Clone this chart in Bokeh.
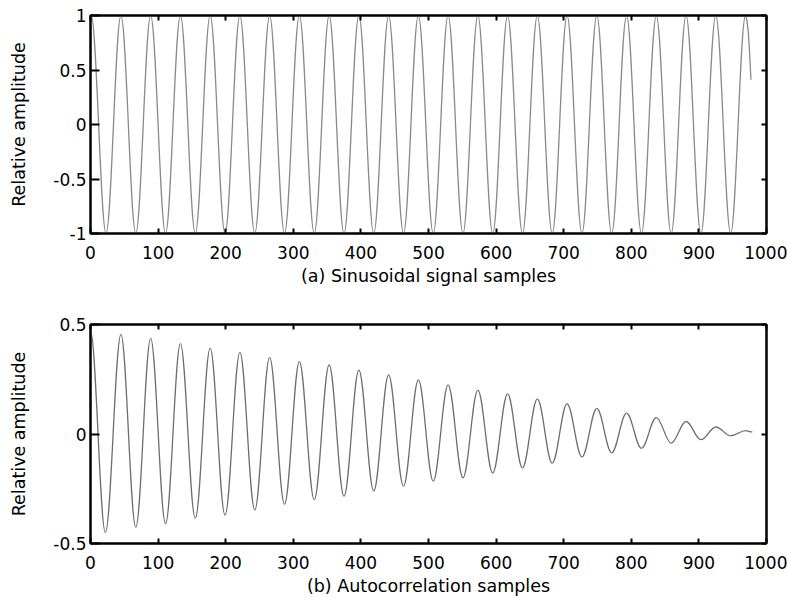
import numpy as np
from bokeh.plotting import figure
from bokeh.models import ColumnDataSource, LinearAxis, FixedTicker, Range1d
from bokeh.layouts import column
from bokeh.embed import file_html
from bokeh.resources import INLINE

# ---------------- data ----------------
x_ticks = [0, 100, 200, 300, 400, 500, 600, 700, 800, 900, 1000]
sig_yticks = [-1, -0.5, 0, 0.5, 1]
sig_ylabels = {-1: "-1", -0.5: "-0.5", 0: "0", 0.5: "0.5", 1: "1"}
acf_yticks = [-0.5, 0, 0.5]
acf_ylabels = {-0.5: "-0.5", 0: "0", 0.5: "0.5"}

# (a) sinusoidal signal: sample index and value at each extremum
sig_ext_x = [1, 23, 45, 67, 89, 111, 133, 155, 177, 199, 221, 243, 265, 287, 309,
             331, 353, 375, 397, 419, 441, 463, 485, 507, 529, 551, 573, 595, 617,
             639, 661, 683, 705, 727, 749, 771, 793, 815, 837, 859, 881, 903, 925,
             947, 969]
sig_ext_y = [1.0, -1.0, 1.0, -1.0, 1.0, -1.0, 1.0, -1.0, 1.0, -1.0, 1.0, -1.0, 1.0,
             -1.0, 1.0, -1.0, 1.0, -1.0, 1.0, -1.0, 1.0, -1.0, 1.0, -1.0, 1.0, -1.0,
             1.0, -1.0, 1.0, -1.0, 1.0, -1.0, 1.0, -1.0, 1.0, -1.0, 1.0, -1.0, 1.0,
             -1.0, 1.0, -1.0, 1.0, -1.0, 1.0]
# last samples after the final peak
sig_tail_x = [969, 971, 973, 975, 977]
sig_tail_y = [1.0, 0.96, 0.85, 0.66, 0.41]

# (b) autocorrelation: lag and value at each extremum
acf_ext_x = [0, 22, 45, 67, 89, 111, 133, 155, 177, 199, 221, 243, 265, 287, 309,
             331, 353, 375, 397, 419, 441, 463, 485, 507, 529, 551, 573, 595, 617,
             639, 661, 683, 705, 727, 749, 771, 793, 815, 837, 859, 881, 903, 925,
             947, 969, 979]
acf_ext_y = [0.47, -0.45, 0.455, -0.425, 0.437, -0.41, 0.413, -0.385, 0.392, -0.37,
             0.373, -0.347, 0.35, -0.32, 0.33, -0.30, 0.315, -0.284, 0.292, -0.26,
             0.27, -0.238, 0.247, -0.215, 0.224, -0.20, 0.20, -0.178, 0.183, -0.155,
             0.16, -0.133, 0.138, -0.105, 0.117, -0.086, 0.095, -0.065, 0.075, -0.042,
             0.057, -0.026, 0.032, -0.008, 0.015, 0.01]

FONT = "DejaVu Sans"


def half_waves(xs, ys, k=0.36):
    x0 = np.array(xs[:-1], float)
    x1 = np.array(xs[1:], float)
    y0 = np.array(ys[:-1], float)
    y1 = np.array(ys[1:], float)
    dx = x1 - x0
    return ColumnDataSource(dict(x0=x0, y0=y0, x1=x1, y1=y1,
                                 cx0=x0 + k * dx, cy0=y0,
                                 cx1=x1 - k * dx, cy1=y1))


def style_axis(ax, ticks, labels=None, tick_in=5, show_labels=True):
    ax.ticker = FixedTicker(ticks=ticks)
    ax.minor_tick_line_color = None
    ax.major_tick_in = tick_in
    ax.major_tick_out = 0
    ax.major_tick_line_width = 2
    ax.major_tick_line_color = "black"
    ax.axis_line_width = 2
    ax.axis_line_color = "black"
    if labels is not None:
        ax.major_label_overrides = labels
    if show_labels:
        ax.major_label_text_font = FONT
        ax.major_label_text_font_size = "17px"
        ax.major_label_text_color = "black"
    else:
        ax.major_label_text_color = None
        ax.major_label_text_font_size = "1px"
        ax.major_label_standoff = 0


def make_fig(height, btop, bbottom, yr, yticks, ylabels, xlabel, label_standoff):
    p = figure(width=787, height=height, x_range=Range1d(0, 1000),
               y_range=Range1d(*yr), output_backend="svg", toolbar_location=None,
               min_border_left=90, min_border_right=21, min_border_top=btop,
               min_border_bottom=bbottom)
    p.grid.visible = False
    p.outline_line_color = "black"
    p.outline_line_width = 2
    p.background_fill_color = "white"
    p.border_fill_color = "white"

    xa = p.xaxis[0]
    style_axis(xa, x_ticks, tick_in=5)
    xa.major_label_standoff = 12
    xa.axis_label = xlabel
    xa.axis_label_standoff = label_standoff
    xa.axis_label_text_font = FONT
    xa.axis_label_text_font_size = "17.5px"
    xa.axis_label_text_font_style = "normal"
    xa.axis_label_text_color = "black"

    ya = p.yaxis[0]
    style_axis(ya, yticks, ylabels, tick_in=9)
    ya.major_label_standoff = 4
    ya.axis_label = "Relative amplitude"
    ya.axis_label_standoff = 21
    ya.axis_label_text_font = FONT
    ya.axis_label_text_font_size = "17.5px"
    ya.axis_label_text_font_style = "normal"
    ya.axis_label_text_color = "black"

    top = LinearAxis()
    style_axis(top, x_ticks, show_labels=False)
    p.add_layout(top, "above")
    right = LinearAxis()
    style_axis(right, yticks, show_labels=False)
    p.add_layout(right, "right")
    return p


p1 = make_fig(300, 15, 67, (-1, 1), sig_yticks, sig_ylabels,
              "(a) Sinusoidal signal samples", 4)
p1.bezier(x0="x0", y0="y0", x1="x1", y1="y1", cx0="cx0", cy0="cy0",
          cx1="cx1", cy1="cy1", source=half_waves(sig_ext_x, sig_ext_y),
          line_color="#8a8a8a", line_width=1.3)
p1.line(sig_tail_x, sig_tail_y, line_color="#8a8a8a", line_width=1.3)

p2 = make_fig(298, 24, 54, (-0.5, 0.5), acf_yticks, acf_ylabels,
              "(b) Autocorrelation samples", 4)
p2.bezier(x0="x0", y0="y0", x1="x1", y1="y1", cx0="cx0", cy0="cy0",
          cx1="cx1", cy1="cy1", source=half_waves(acf_ext_x, acf_ext_y),
          line_color="#6e6e6e", line_width=1.3)

layout = column(p1, p2)
open("out.html", "w").write(file_html(layout, INLINE))
